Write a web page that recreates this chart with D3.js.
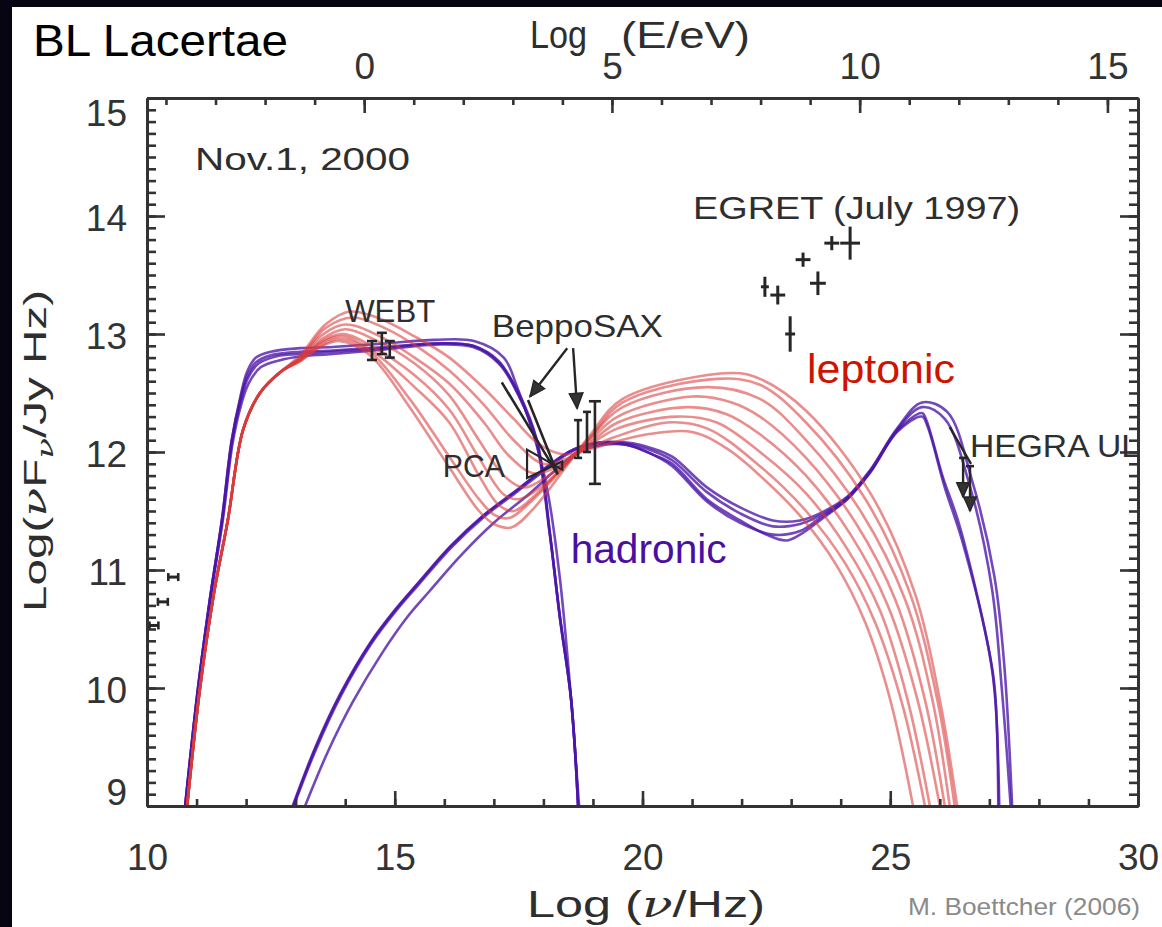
<!DOCTYPE html>
<html>
<head>
<meta charset="utf-8">
<script src="https://cdn.jsdelivr.net/npm/d3@7/dist/d3.min.js"></script>
<style>
  html, body { margin: 0; padding: 0; background: #070512; }
  svg { display: block; }
  text { font-family: "Liberation Sans", Arial, Helvetica, sans-serif; }
</style>
</head>
<body>
<svg id="chart" width="1162" height="927"></svg>
<script>
// ---- Axis ticks ----
const xMajorTicks = [10, 15, 20, 25, 30];
const xMinorTicks = d3.range(10, 31);
const yMajorTicks = [9, 10, 11, 12, 13, 14, 15];
const yMinorTicks = d3.range(90, 151).map(v => v / 10);
const eMajorTicks = [0, 5, 10, 15];
const eMinorTicks = d3.range(-4, 16);
const logHzPerEV = 14.383;   // log10(eV / h)

// ---- Hadronic model: electron synchrotron component ----
const hadSyn1 = [[10.77,9],[11.03,10],[11.27,10.75],[11.51,11.42],[11.71,12.1],[11.88,12.46],[12.02,12.68],[12.2,12.8],[12.5,12.85],[13.09,12.88],[13.75,12.89],[14.8,12.92],[15.8,12.95],[16.6,12.94],[17.2,12.8],[17.47,12.55],[17.8,12.15],[18.07,11.7],[18.33,10.94],[18.56,9.9],[18.72,9]];
const hadSyn2 = [[10.77,9],[11.03,10],[11.27,10.75],[11.51,11.42],[11.71,12.1],[11.88,12.44],[12.02,12.64],[12.2,12.76],[12.5,12.82],[13.09,12.85],[13.75,12.86],[14.8,12.89],[15.8,12.92],[16.58,12.9],[17.1,12.76],[17.5,12.5],[17.87,12.1],[18.13,11.31],[18.33,10.6],[18.56,9.9],[18.7,9]];
const hadSyn3 = [[10.78,9],[11.04,10],[11.28,10.75],[11.53,11.42],[11.73,12.08],[11.9,12.4],[12.05,12.58],[12.3,12.72],[12.7,12.78],[13.09,12.81],[13.75,12.83],[14.8,12.87],[15.8,12.91],[16.58,12.89],[17.1,12.75],[17.5,12.48],[17.85,12.1],[18.12,11.33],[18.33,10.62],[18.56,9.9],[18.7,9]];
const hadSyn4 = [[10.77,9],[11.03,10],[11.27,10.76],[11.52,11.43],[11.72,12.1],[11.89,12.43],[12.03,12.62],[12.25,12.75],[12.6,12.81],[13.09,12.83],[13.75,12.85],[14.8,12.88],[15.8,12.92],[16.58,12.9],[17.1,12.77],[17.48,12.5],[17.86,12.1],[18.13,11.32],[18.33,10.61],[18.56,9.9],[18.7,9]];

// ---- Hadronic model: high-energy (proton / cascade) component ----
const hadHE1 = [[12.94,9],[13.4,9.5],[13.9,9.95],[14.5,10.38],[15.0,10.66],[15.45,10.88],[16.12,11.2],[16.78,11.46],[17.47,11.68],[17.99,11.85],[18.6,12.02],[19.14,12.08],[19.69,12.08],[20.2,12.03],[20.6,11.96],[21.3,11.7],[21.97,11.53],[22.63,11.42],[23.18,11.42],[23.58,11.48],[24.13,11.62],[24.6,11.85],[25.14,12.2],[25.64,12.42],[26.15,12.34],[26.65,11.76],[27.1,10.95],[27.3,10.2],[27.46,9]];
const hadHE2 = [[12.95,9],[13.41,9.5],[13.91,9.95],[14.51,10.38],[15.01,10.66],[15.46,10.88],[16.13,11.2],[16.79,11.46],[17.48,11.68],[18.0,11.85],[18.6,12.02],[19.14,12.08],[19.69,12.07],[20.2,12.01],[20.6,11.93],[21.3,11.66],[21.97,11.48],[22.63,11.37],[23.18,11.39],[23.58,11.46],[24.13,11.61],[24.6,11.84],[25.14,12.19],[25.64,12.38],[26.1,12.28],[26.6,11.72],[27.05,10.85],[27.25,10.0],[27.43,9]];
const hadHE3 = [[13.19,9],[13.65,9.46],[14.15,9.88],[14.75,10.3],[15.25,10.6],[15.7,10.82],[16.35,11.13],[17.0,11.4],[17.7,11.64],[18.2,11.83],[18.7,12.0],[19.2,12.06],[19.69,12.06],[20.2,11.98],[20.6,11.9],[21.3,11.6],[21.97,11.42],[22.5,11.3],[22.9,11.25],[23.18,11.3],[23.58,11.42],[24.13,11.6],[24.6,11.83],[25.14,12.18],[25.64,12.33],[25.72,12.28],[26.06,11.79],[26.41,11.36],[27.07,10.13],[27.15,9.7],[27.2,9]];
const hadHE4 = [[12.96,9],[13.42,9.49],[13.92,9.94],[14.52,10.37],[15.02,10.65],[15.47,10.87],[16.14,11.19],[16.8,11.45],[17.49,11.67],[18.01,11.84],[18.6,12.01],[19.14,12.07],[19.69,12.06],[20.2,11.98],[20.6,11.88],[21.3,11.58],[21.97,11.4],[22.63,11.3],[23.18,11.33],[23.58,11.44],[24.13,11.6],[24.6,11.83],[25.14,12.17],[25.64,12.3],[25.75,12.22],[26.1,11.7],[26.45,11.25],[27.0,10.3],[27.13,9.85],[27.18,9]];

// ---- Leptonic model (synchrotron + Compton) ----
const lepRise = [[10.81,9],[11.07,10],[11.35,10.8],[11.63,11.42],[11.94,12.19],[12.28,12.5],[12.7,12.68]];
const lep1 = lepRise.concat([[13.09,12.82],[13.6,13.08],[14.1,13.19],[14.7,13.13],[15.4,12.98],[16.1,12.8],[16.8,12.54],[17.4,12.28],[17.9,12.07],[18.4,11.98],[18.9,12.02],[19.4,12.08],[20.1,12.15],[21.0,12.17],[21.7,12.03],[22.37,11.8],[23.2,11.45],[23.9,11.05],[24.5,10.55],[25.0,9.9],[25.46,9]]);
const lep2 = lepRise.concat([[13.09,12.8],[13.6,13.05],[14.15,13.14],[14.8,13.05],[15.5,12.88],[16.1,12.69],[16.8,12.4],[17.4,12.1],[18.0,11.9],[18.5,11.95],[18.9,12.03],[19.4,12.12],[20.5,12.25],[21.3,12.2],[22.37,11.88],[23.3,11.5],[24.1,11.05],[24.7,10.55],[25.25,9.85],[25.7,9]]);
const lep3 = lepRise.concat([[13.09,12.8],[13.5,12.98],[14.0,13.08],[14.7,12.98],[15.4,12.8],[16.1,12.58],[16.8,12.25],[17.3,11.97],[17.8,11.82],[18.3,11.88],[18.9,12.05],[19.5,12.2],[20.7,12.3],[21.5,12.25],[22.37,12.0],[23.3,11.65],[24.1,11.2],[24.8,10.65],[25.35,9.9],[25.8,9]]);
const lep4 = lepRise.concat([[13.09,12.79],[13.5,12.95],[14.0,13.04],[14.6,12.95],[15.4,12.75],[16.1,12.48],[16.7,12.1],[17.2,11.8],[17.6,11.7],[18.1,11.8],[18.9,12.06],[19.5,12.25],[20.9,12.38],[21.7,12.32],[22.37,12.15],[23.3,11.8],[24.2,11.3],[24.95,10.7],[25.55,9.9],[26.0,9]]);
const lep5 = lepRise.concat([[13.09,12.78],[13.5,12.93],[13.95,13.0],[14.6,12.88],[15.4,12.65],[16.1,12.36],[16.7,11.95],[17.2,11.64],[17.5,11.6],[18.0,11.72],[18.9,12.08],[19.5,12.3],[21.0,12.47],[21.8,12.42],[22.37,12.3],[23.3,11.95],[24.3,11.4],[25.1,10.75],[25.7,9.9],[26.1,9]]);
const lep6 = lepRise.concat([[13.09,12.78],[13.5,12.92],[13.95,12.98],[14.6,12.84],[15.4,12.55],[16.1,12.25],[16.7,11.8],[17.1,11.55],[17.4,11.5],[17.9,11.66],[18.9,12.1],[19.6,12.38],[21.3,12.55],[22.37,12.45],[23.3,12.1],[24.4,11.5],[25.3,10.75],[25.85,9.9],[26.2,9]]);
const lep7 = lepRise.concat([[13.09,12.77],[13.5,12.9],[13.9,12.96],[14.5,12.85],[15.3,12.45],[16.1,11.96],[16.7,11.6],[17.0,11.47],[17.3,11.44],[17.8,11.6],[18.9,12.1],[19.6,12.42],[21.5,12.62],[22.37,12.57],[23.3,12.25],[24.5,11.6],[25.4,10.8],[25.95,9.9],[26.3,9]]);
const lep8 = lepRise.concat([[13.09,12.77],[13.5,12.89],[13.9,12.94],[14.5,12.82],[15.3,12.38],[16.1,11.87],[16.7,11.5],[17.0,11.39],[17.35,11.36],[17.8,11.52],[18.9,12.12],[19.6,12.45],[21.8,12.67],[22.37,12.62],[23.3,12.35],[24.6,11.65],[25.5,10.8],[26.0,9.9],[26.35,9]]);

// ---- Observations ----
// radio: [logNu, logNuFnu, xErr]
const radioPts = [[10.14,10.53,0.09],[10.32,10.73,0.1],[10.53,10.94,0.1]];
// WEBT optical: [logNu, logNuFnu, yErr]
const webtPts = [[14.54,12.86,0.08],[14.74,12.92,0.09],[14.9,12.87,0.07]];
// BeppoSAX: [logNu, logNuFnu, yErr]
const saxPts = [[18.7,12.11,0.16],[18.88,12.17,0.17],[19.04,12.08,0.35]];
// RXTE PCA bow-tie: [logNu lo, logNu hi], upper/lower spectra end values
const pcaNu = [17.67, 18.38];
const pcaUpper = [12.02, 11.85];
const pcaLower = [11.78, 11.92];
// BeppoSAX low-energy wedge
const lecsNu = [17.16, 17.69, 18.29];
const lecsFlux = [12.59, 12.44, 11.81];
// EGRET (July 1997): [logNu, logNuFnu, yErr, xErr]
const egretPts = [[22.47,13.4,0.085,0.08],[22.73,13.33,0.08,0.15],[22.98,13.0,0.15,0.1],[23.24,13.63,0.06,0.15],[23.54,13.43,0.1,0.16],[23.82,13.77,0.06,0.15],[24.19,13.77,0.14,0.2]];
// HEGRA upper limits: [logNu, limit, arrow end]
const hegraUL = [[26.47,11.95,11.62],[26.61,11.88,11.5]];

// ---- Layout ----
const W = 1162, H = 927;
const plot = { left: 147, right: 1138, top: 98, bottom: 806 };
const svg = d3.select("#chart");

const x = d3.scaleLinear().domain([10, 30]).range([plot.left, plot.right]);
const y = d3.scaleLinear().domain([9, 15]).range([plot.bottom, plot.top]);
const xE = d3.scaleLinear().domain([10 - logHzPerEV, 30 - logHzPerEV]).range([plot.left, plot.right]);

svg.append("rect").attr("width", W).attr("height", H).attr("fill", "#070512");
svg.append("rect").attr("x", 12).attr("y", 7).attr("width", W - 12).attr("height", H - 7).attr("fill", "#ffffff");

svg.append("defs").append("clipPath").attr("id", "plotClip")
  .append("rect").attr("x", plot.left).attr("y", plot.top)
  .attr("width", plot.right - plot.left).attr("height", plot.bottom - plot.top + 4);

// ---- Model curves ----
const line = d3.line().x(d => x(d[0])).y(d => y(d[1])).curve(d3.curveCatmullRom.alpha(0.5));
const curves = svg.append("g").attr("clip-path", "url(#plotClip)");

const hadronic = [hadSyn1, hadSyn2, hadSyn3, hadSyn4, hadHE1, hadHE2, hadHE3, hadHE4];
curves.selectAll("path.had").data(hadronic).join("path")
  .attr("class", "had").attr("d", line)
  .attr("fill", "none").attr("stroke", "#4a14a8").attr("stroke-opacity", 0.78)
  .attr("stroke-width", 2.6).attr("stroke-linejoin", "round");

const leptonic = [lep1, lep2, lep3, lep4, lep5, lep6, lep7, lep8];
curves.selectAll("path.lep").data(leptonic).join("path")
  .attr("class", "lep").attr("d", line)
  .attr("fill", "none").attr("stroke", "#d93a3a").attr("stroke-opacity", 0.58)
  .attr("stroke-width", 2.6).attr("stroke-linejoin", "round");

// ---- Data points ----
const ink = "#262626";
const pts = svg.append("g").attr("stroke", ink).attr("fill", "none").attr("stroke-width", 2.6);

// radio: horizontal bars with end caps
radioPts.forEach(d => {
  const g = pts.append("g");
  g.append("line").attr("x1", x(d[0] - d[2])).attr("x2", x(d[0] + d[2])).attr("y1", y(d[1])).attr("y2", y(d[1])).attr("stroke-width", 3);
  [-1, 1].forEach(s => g.append("line").attr("x1", x(d[0] + s * d[2])).attr("x2", x(d[0] + s * d[2]))
    .attr("y1", y(d[1]) - 4).attr("y2", y(d[1]) + 4));
});

function errBar(g, xv, yv, err, cap) {
  g.append("line").attr("x1", x(xv)).attr("x2", x(xv)).attr("y1", y(yv - err)).attr("y2", y(yv + err));
  [-1, 1].forEach(s => g.append("line")
    .attr("x1", x(xv) - cap).attr("x2", x(xv) + cap)
    .attr("y1", y(yv + s * err)).attr("y2", y(yv + s * err)));
}
webtPts.forEach(d => errBar(pts, d[0], d[1], d[2], 5));
saxPts.forEach((d, i) => errBar(pts, d[0], d[1], d[2], i === 2 ? 6 : 4));

// PCA bow-tie
pts.append("path").attr("stroke-width", 2.2).attr("d",
  `M${x(pcaNu[0])},${y(pcaUpper[0])} L${x(pcaNu[1])},${y(pcaUpper[1])} L${x(pcaNu[1])},${y(pcaLower[1])} ` +
  `L${x(pcaNu[0])},${y(pcaLower[0])} Z`);
// low-energy wedge
pts.append("path").attr("stroke-width", 2.6).attr("d",
  `M${x(lecsNu[0])},${y(lecsFlux[0])} L${x(lecsNu[2])},${y(lecsFlux[2])} L${x(lecsNu[1])},${y(lecsFlux[1])}`);

// EGRET crosses
egretPts.forEach(d => {
  pts.append("line").attr("x1", x(d[0])).attr("x2", x(d[0])).attr("y1", y(d[1] - d[2])).attr("y2", y(d[1] + d[2])).attr("stroke-width", 3);
  pts.append("line").attr("x1", x(d[0] - d[3])).attr("x2", x(d[0] + d[3])).attr("y1", y(d[1])).attr("y2", y(d[1])).attr("stroke-width", 3);
});

// arrows (shared head)
function arrow(x1, y1, x2, y2, head) {
  const a = Math.atan2(y2 - y1, x2 - x1);
  pts.append("line").attr("x1", x1).attr("y1", y1).attr("x2", x2).attr("y2", y2).attr("stroke-width", 2.4);
  const L = head, w = head * 0.45;
  const bx = x2 - L * Math.cos(a), by = y2 - L * Math.sin(a);
  pts.append("path").attr("fill", "#333").attr("stroke-width", 1.5).attr("d",
    `M${x2},${y2} L${bx + w * Math.sin(a)},${by - w * Math.cos(a)} L${bx - w * Math.sin(a)},${by + w * Math.cos(a)} Z`);
}
arrow(x(18.48), y(12.88), x(17.73), y(12.47), 15);
arrow(x(18.6), y(12.88), x(18.68), y(12.37), 15);

// HEGRA upper limits
pts.append("line").attr("x1", x(26.2)).attr("y1", y(12.21)).attr("x2", x(26.63)).attr("y2", y(11.9)).attr("stroke-width", 2.4);
hegraUL.forEach(d => {
  pts.append("line").attr("x1", x(d[0]) - 4).attr("x2", x(d[0]) + 4).attr("y1", y(d[1])).attr("y2", y(d[1]));
  arrow(x(d[0]), y(d[1]), x(d[0]), y(d[2]), 14);
});

// ---- Axes ----
function styleAxis(g) {
  g.selectAll("path.domain").attr("stroke", "#333").attr("stroke-width", 3);
  g.selectAll(".tick line").attr("stroke", "#333").attr("stroke-width", 2.6);
  g.selectAll(".tick text").attr("fill", "#333").attr("font-size", 37)
    .attr("font-family", "'Liberation Sans', Arial, sans-serif");
}
const axes = svg.append("g");
// bottom
axes.append("g").attr("transform", `translate(0,${plot.bottom})`)
  .call(d3.axisBottom(x).tickValues(xMinorTicks).tickSizeInner(-7).tickSizeOuter(0).tickFormat(""))
  .call(styleAxis);
axes.append("g").attr("transform", `translate(0,${plot.bottom})`)
  .call(d3.axisBottom(x).tickValues(xMajorTicks).tickSizeInner(-15).tickSizeOuter(0).tickPadding(38).tickFormat(d3.format("d")))
  .call(styleAxis);
// top (photon energy)
axes.append("g").attr("transform", `translate(0,${plot.top})`)
  .call(d3.axisTop(xE).tickValues(eMinorTicks).tickSizeInner(-7).tickSizeOuter(0).tickFormat(""))
  .call(styleAxis);
axes.append("g").attr("transform", `translate(0,${plot.top})`)
  .call(d3.axisTop(xE).tickValues(eMajorTicks).tickSizeInner(-15).tickSizeOuter(0).tickPadding(19).tickFormat(d3.format("d")))
  .call(styleAxis);
// left
axes.append("g").attr("transform", `translate(${plot.left},0)`)
  .call(d3.axisLeft(y).tickValues(yMinorTicks).tickSizeInner(-9).tickSizeOuter(0).tickFormat(""))
  .call(styleAxis);
const yMajor = axes.append("g").attr("transform", `translate(${plot.left},0)`)
  .call(d3.axisLeft(y).tickValues(yMajorTicks).tickSizeInner(-18).tickSizeOuter(0).tickPadding(20).tickFormat(d3.format("d")))
  .call(styleAxis);
yMajor.selectAll(".tick text").attr("dy", d => d === 15 ? "0.75em" : d === 9 ? "-0.05em" : "0.4em");
// right
axes.append("g").attr("transform", `translate(${plot.right},0)`)
  .call(d3.axisRight(y).tickValues(yMinorTicks).tickSizeInner(-9).tickSizeOuter(0).tickFormat(""))
  .call(styleAxis);
axes.append("g").attr("transform", `translate(${plot.right},0)`)
  .call(d3.axisRight(y).tickValues(yMajorTicks).tickSizeInner(-18).tickSizeOuter(0).tickFormat(""))
  .call(styleAxis);

// ---- Text ----
const txt = svg.append("g").attr("fill", "#2e2e2e");
function label(str, xv, yv, size, len, opts = {}) {
  const t = txt.append("text").attr("x", xv).attr("y", yv).attr("font-size", size).text(str);
  if (len) t.attr("textLength", len).attr("lengthAdjust", opts.adjust || "spacingAndGlyphs");
  if (opts.fill) t.attr("fill", opts.fill);
  if (opts.family) t.attr("font-family", opts.family);
  return t;
}
label("BL Lacertae", 33, 56, 44, 255, { fill: "#000" });
label("Nov.1, 2000", x(10.97), 170, 32, 215);
label("EGRET (July 1997)", x(21.02), 219, 32, 327);
label("WEBT", x(14.0), 322, 32, 90);
label("BeppoSAX", x(16.96), 337, 32, 171);
label("PCA", x(15.97), 477, 31, 62);
label("HEGRA UL", x(26.61), 457, 32, 170);
label("leptonic", x(23.32), 383, 41, 148, { fill: "#cc1400" });
label("hadronic", x(18.55), 563, 41, 156, { fill: "#4b0fa0" });

// axis titles
const xt = txt.append("text").attr("x", 527).attr("y", 917).attr("font-size", 37)
  .attr("textLength", 238).attr("lengthAdjust", "spacingAndGlyphs");
xt.append("tspan").text("Log (");
xt.append("tspan").attr("font-style", "italic").attr("font-family", "'DejaVu Serif', serif").text("\u03bd");
xt.append("tspan").text("/Hz)");

label("Log", 530, 48, 38, 57);
label("(E/eV)", 621, 48, 37, 129);

const yt = txt.append("text").attr("transform", "translate(46,612) rotate(-90)").attr("font-size", 32)
  .attr("textLength", 322).attr("lengthAdjust", "spacingAndGlyphs");
yt.append("tspan").text("Log(");
yt.append("tspan").attr("font-style", "italic").attr("font-family", "'DejaVu Serif', serif").text("\u03bd");
yt.append("tspan").text("F");
yt.append("tspan").attr("font-style", "italic").attr("font-family", "'DejaVu Serif', serif")
  .attr("font-size", 23).attr("dy", 7).text("\u03bd");
yt.append("tspan").attr("dy", -7).text("/Jy Hz)");

label("M. Boettcher (2006)", 908, 915, 24, 232, { fill: "#8a8a8a" });
</script>
</body>
</html>
